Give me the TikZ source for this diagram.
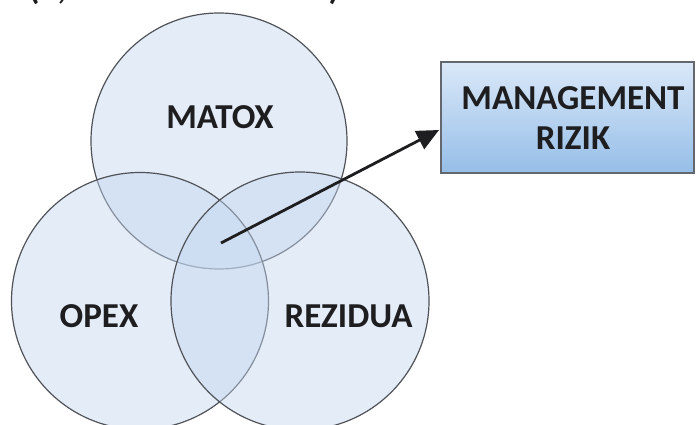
\documentclass[tikz,border=0pt]{standalone}
\usepackage{fontspec}
\setmainfont{Carlito}
\usetikzlibrary{arrows.meta}
\definecolor{vennfill}{RGB}{196,215,240}
\definecolor{venndraw}{RGB}{80,83,88}
\definecolor{boxtop}{RGB}{218,232,248}
\definecolor{boxbot}{RGB}{150,190,232}
\definecolor{boxdraw}{RGB}{100,104,110}
\definecolor{ink}{RGB}{30,30,32}
\begin{document}
\begin{tikzpicture}[x=1pt,y=-1pt,
  venn/.style={circle, draw=venndraw, line width=1.2pt, fill=vennfill, fill opacity=0.45, inner sep=0pt, minimum size=#1},
  lbl/.style={font=\fontsize{35}{40}\selectfont\bfseries, text=ink, inner sep=0pt},
  riskbox/.style={rectangle, draw=boxdraw, line width=1.3pt, top color=boxtop, bottom color=boxbot, inner sep=0pt, minimum width=253pt, minimum height=111pt},
  conn/.style={draw=ink, line width=2.8pt, -{Triangle[length=22pt,width=20pt]}}
]
\useasboundingbox (0,0) rectangle (696,425);
\clip (0,0) rectangle (696,425);
\fill[white] (0,0) rectangle (696,425);
% cut-off caption line at top
\node[lbl, anchor=base] (p1) at (34,0) {(};
\node[lbl, anchor=base] (p2) at (62,0) {,};
\node[lbl, anchor=base] (p3) at (334,0) {)};
% circles
\node[venn=256pt] (c1) at (219,141) {};
\node[venn=257pt] (c2) at (140,301) {};
\node[venn=258pt] (c3) at (300,301) {};
% labels
\node[lbl] (l1) at (220,117) {MATOX};
\node[lbl] (l2) at (99,316) {OPEX};
\node[lbl] (l3) at (348.5,316) {REZIDUA};
% box
\node[riskbox] (mr) at (567.5,117.5) {};
\node[lbl, align=center] (mrt) at (573,118) {MANAGEMENT\\RIZIK};
% arrow
\coordinate (s) at (221,243);
\coordinate (t) at (439,130);
\draw[conn] (s) -- (t);
\end{tikzpicture}
\end{document}
